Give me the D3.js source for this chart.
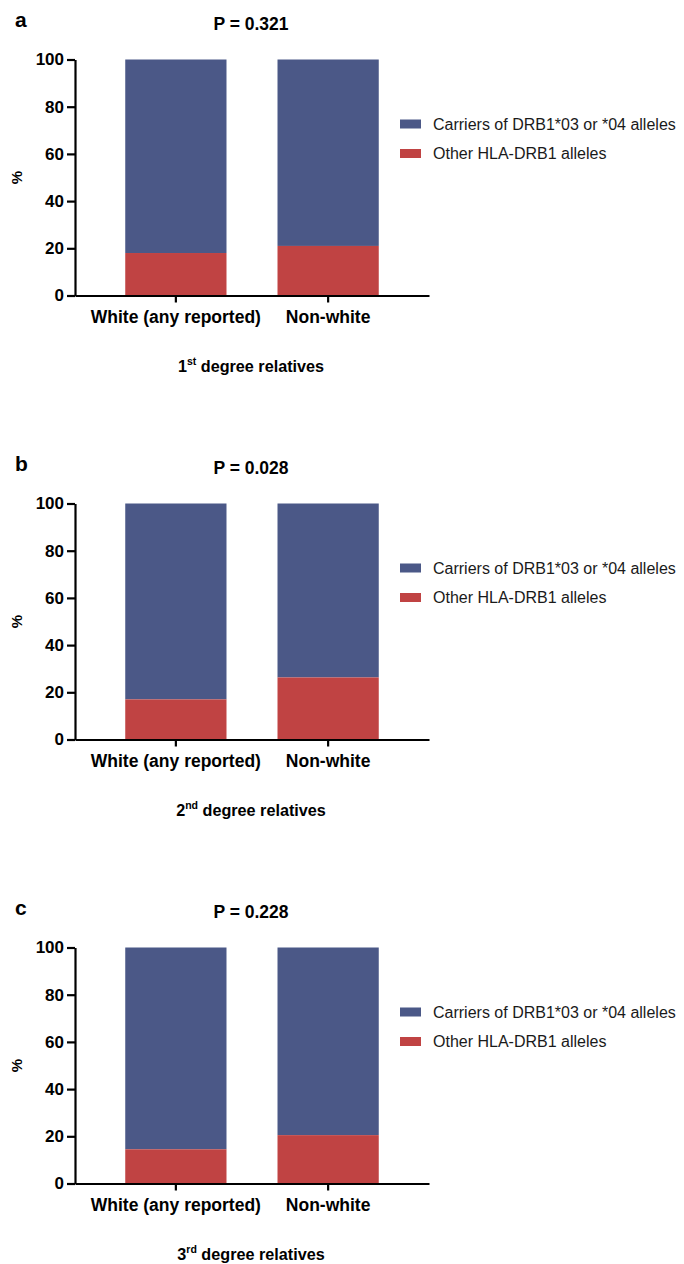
<!DOCTYPE html>
<html>
<head>
<meta charset="utf-8">
<script src="https://cdn.jsdelivr.net/npm/d3@7"></script>
<style>
  body { margin: 0; background: #fff; }
  text { font-family: "Liberation Sans", Arial, sans-serif; }
</style>
</head>
<body>
<div id="chart"></div>
<script>
const width = 684;
const height = 1264;

// data
const panels = ["a", "b", "c"];
const pValues = ["P = 0.321", "P = 0.028", "P = 0.228"];
const groups = ["White (any reported)", "Non-white"];
const otherPct = [[18, 21], [17, 26.3], [14.5, 20.5]];
const carrierPct = otherPct.map(row => row.map(v => 100 - v));
const degreeNum = ["1", "2", "3"];
const degreeSup = ["st", "nd", "rd"];
const seriesNames = ["Carriers of DRB1*03 or *04 alleles", "Other HLA-DRB1 alleles"];
const seriesColors = ["#4b5887", "#c04343"];
const yTicks = [0, 20, 40, 60, 80, 100];

const panelTop = 59.5;
const panelStep = 444;
const plotHeight = 236;
const axisLeft = 75;
const axisRight = 429;

const svg = d3.select("#chart").append("svg")
    .attr("width", width)
    .attr("height", height);

const x = d3.scaleBand()
    .domain(groups)
    .range([axisLeft, axisRight])
    .paddingInner(0.335)
    .paddingOuter(0.33);

panels.forEach((letter, i) => {
    const top = panelTop + i * panelStep;
    const y = d3.scaleLinear()
        .domain([0, 100])
        .range([top + plotHeight, top]);

    const g = svg.append("g");

    // stacked bars: other alleles at the bottom, carriers on top
    const rows = groups.map((grp, j) => ({grp, other: otherPct[i][j], carrier: carrierPct[i][j]}));

    g.selectAll(".carrier")
        .data(rows)
        .join("rect")
        .attr("x", d => x(d.grp))
        .attr("width", x.bandwidth())
        .attr("y", d => y(d.other + d.carrier))
        .attr("height", d => y(d.other) - y(d.other + d.carrier))
        .attr("fill", seriesColors[0]);

    g.selectAll(".other")
        .data(rows)
        .join("rect")
        .attr("x", d => x(d.grp))
        .attr("width", x.bandwidth())
        .attr("y", d => y(d.other))
        .attr("height", d => y(0) - y(d.other))
        .attr("fill", seriesColors[1]);

    // y axis
    const yAxis = g.append("g")
        .attr("transform", `translate(${axisLeft},0)`)
        .call(d3.axisLeft(y).tickValues(yTicks).tickSize(8).tickPadding(3).tickSizeOuter(0));
    yAxis.select(".domain").attr("stroke-width", 2.2);
    yAxis.selectAll(".tick line").attr("stroke-width", 2.2);
    yAxis.selectAll("text")
        .attr("font-size", 17)
        .attr("font-weight", "bold")
        .attr("fill", "#000")
        .style("font-family", "'Liberation Sans', Arial, sans-serif");

    // x axis
    const xAxis = g.append("g")
        .attr("transform", `translate(0,${y(0)})`)
        .call(d3.axisBottom(x).tickSize(7).tickPadding(8).tickSizeOuter(0));
    xAxis.select(".domain").attr("stroke-width", 2.2);
    xAxis.selectAll(".tick line").attr("stroke-width", 2.2);
    xAxis.selectAll("text")
        .attr("font-size", 17.5)
        .attr("font-weight", "bold")
        .attr("fill", "#000")
        .style("font-family", "'Liberation Sans', Arial, sans-serif");

    // y label
    g.append("text")
        .attr("transform", `translate(22,${top + plotHeight / 2}) rotate(-90)`)
        .attr("text-anchor", "middle")
        .attr("font-size", 15)
        .attr("font-weight", "bold")
        .text("%");

    // panel letter and p value
    g.append("text")
        .attr("x", 15)
        .attr("y", top - 33)
        .attr("font-size", 21)
        .attr("font-weight", "bold")
        .text(letter);

    g.append("text")
        .attr("x", (axisLeft + axisRight) / 2 - 1)
        .attr("y", top - 29.5)
        .attr("text-anchor", "middle")
        .attr("font-size", 17.5)
        .attr("font-weight", "bold")
        .text(pValues[i]);

    // x title with superscript
    const xt = g.append("text")
        .attr("x", 251)
        .attr("y", top + 312)
        .attr("text-anchor", "middle")
        .attr("font-size", 16.2)
        .attr("font-weight", "bold");
    xt.append("tspan").text(degreeNum[i]);
    xt.append("tspan").attr("font-size", 10.5).attr("dy", -6.5).text(degreeSup[i]);
    xt.append("tspan").attr("dy", 6.5).text(" degree relatives");

    // legend
    const leg = g.selectAll(".leg")
        .data(seriesNames)
        .join("g")
        .attr("transform", (d, k) => `translate(400,${top + 64.5 + k * 29.5})`);
    leg.append("rect")
        .attr("x", 0)
        .attr("y", -4.5)
        .attr("width", 21)
        .attr("height", 9)
        .attr("fill", (d, k) => seriesColors[k]);
    leg.append("text")
        .attr("x", 33)
        .attr("y", 0)
        .attr("dy", "0.35em")
        .attr("font-size", 16)
        .attr("fill", "#1a1a1a")
        .text(d => d);
});
</script>
</body>
</html>
